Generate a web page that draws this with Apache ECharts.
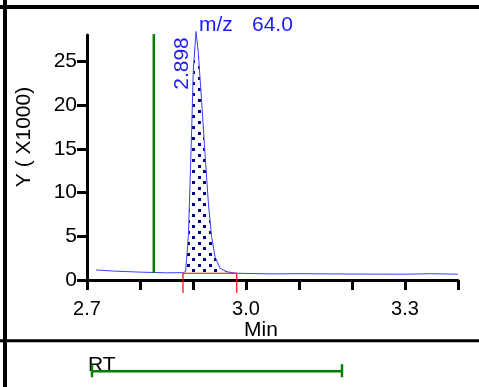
<!DOCTYPE html>
<html>
<head>
<meta charset="utf-8">
<script src="https://cdn.jsdelivr.net/npm/echarts@6/dist/echarts.min.js"></script>
<style>html,body{margin:0;padding:0;background:#fff}#c{width:479px;height:387px}</style>
</head>
<body>
<div id="c"></div>
<script>
// ---- data ----
const traceTime = [2.717, 2.75, 2.80, 2.85, 2.88, 2.886, 2.888, 2.8912, 2.8943, 2.8975, 2.9006, 2.9057, 2.910, 2.9164, 2.9226, 2.929, 2.935, 2.9415, 2.951, 2.9635, 2.982, 3.05, 3.10, 3.15, 3.20, 3.25, 3.30, 3.35, 3.40];
const traceY = [1.15, 1.02, 0.90, 0.82, 0.84, 0.95, 1.15, 4.97, 10.7, 17.2, 24.1, 28.4, 26.0, 20.3, 14.5, 8.8, 4.97, 2.67, 1.34, 0.95, 0.77, 0.70, 0.72, 0.70, 0.68, 0.67, 0.66, 0.72, 0.66];
const peakStart = 2.886, peakEnd = 2.982;
const baselineLevel = 0.77;
const bracketTime = [2.8811, 2.8811, 2.9825, 2.9825];
const bracketY = [-1.49, 0.77, 0.77, -1.49];
const markerTime = [2.826, 2.826];
const markerY = [0.8, 28.1];
const rtTime = [2.7094, 2.7094, 2.7094, 3.1811, 3.1811, 3.1811];
const rtY = [-9.63, -11.12, -10.44, -10.44, -9.63, -11.12];
const xTicks = [2.7, 2.8, 2.9, 3.0, 3.1, 3.2, 3.3, 3.4];
const xLabels = [2.7, 3.0, 3.3];
const yTicks = [0, 5, 10, 15, 20, 25];
const peakRT = '2.898';
const massLabel = ['m/z', '64.0'];

const zip = (a, b) => a.map((v, i) => [v, b[i]]);
const trace = zip(traceTime, traceY);
const peakFill = trace.filter(p => p[0] >= peakStart && p[0] <= peakEnd);

// dot pattern
const pc = document.createElement('canvas');
pc.width = 11; pc.height = 11;
const pctx = pc.getContext('2d');
pctx.fillStyle = '#000088';
pctx.fillRect(0, 0, 3, 3);
pctx.fillRect(5, 5, 3, 3);

const FONT = 'Liberation Sans, Arial, sans-serif';
const chart = echarts.init(document.getElementById('c'), null, {renderer: 'canvas'});
chart.setOption({
  animation: false,
  backgroundColor: '#fff',
  grid: {left: 87, right: 21, top: 35, bottom: 107},
  xAxis: {
    type: 'value', min: 2.7, max: 3.4,
    axisLine: {show: true, lineStyle: {color: '#000', width: 3}},
    axisTick: {show: true, length: 10, lineStyle: {color: '#000', width: 3}, customValues: xTicks},
    axisLabel: {customValues: xLabels, color: '#000', fontSize: 20, fontFamily: FONT, margin: 19,
      formatter: v => v.toFixed(1)},
    splitLine: {show: false}
  },
  yAxis: {
    type: 'value', min: 0, max: 28,
    axisLine: {show: true, lineStyle: {color: '#000', width: 3}},
    axisTick: {show: true, length: 10, lineStyle: {color: '#000', width: 3}, customValues: yTicks},
    axisLabel: {customValues: yTicks, color: '#000', fontSize: 21, fontFamily: FONT, margin: 10, padding: [6, 0, 0, 0]},
    splitLine: {show: false}
  },
  series: [
    {type: 'line', data: peakFill, showSymbol: false, clip: false, silent: true,
      lineStyle: {width: 0, opacity: 0},
      areaStyle: {origin: baselineLevel, color: {image: pc, repeat: 'repeat'}, opacity: 1}},
    {type: 'line', data: trace, showSymbol: false, clip: false,
      lineStyle: {color: '#3c3cff', width: 1}},
    {type: 'line', data: zip(bracketTime, bracketY), showSymbol: false, clip: false,
      lineStyle: {color: '#ff0000', width: 1.2}},
    {type: 'line', data: zip(markerTime, markerY), showSymbol: false, clip: false,
      lineStyle: {color: '#008000', width: 2.5}},
    {type: 'line', data: zip(rtTime, rtY), showSymbol: false, clip: false,
      lineStyle: {color: '#008000', width: 2.5}}
  ],
  graphic: [
    {type: 'line', shape: {x1: 0, y1: 7, x2: 479, y2: 7}, style: {stroke: '#000', lineWidth: 4}},
    {type: 'line', shape: {x1: 5, y1: 0, x2: 5, y2: 387}, style: {stroke: '#000', lineWidth: 4}},
    {type: 'line', shape: {x1: 0, y1: 340.8, x2: 479, y2: 340.8}, style: {stroke: '#000', lineWidth: 3}},
    {type: 'text', x: 199, y: 25, style: {text: massLabel[0], font: '21px ' + FONT, fill: '#1a1aff', align: 'left', verticalAlign: 'middle'}},
    {type: 'text', x: 252, y: 25, style: {text: massLabel[1], font: '21px ' + FONT, fill: '#1a1aff', align: 'left', verticalAlign: 'middle'}},
    {type: 'text', x: 182, y: 63.5, rotation: Math.PI / 2, style: {text: peakRT, font: '21px ' + FONT, fill: '#1a1aff', align: 'center', verticalAlign: 'middle'}},
    {type: 'text', x: 24, y: 137, rotation: Math.PI / 2, style: {text: 'Y ( X1000)', font: '21px ' + FONT, fill: '#000', align: 'center', verticalAlign: 'middle'}},
    {type: 'text', x: 244, y: 330, style: {text: 'Min', font: '21px ' + FONT, fill: '#000', align: 'left', verticalAlign: 'middle'}},
    {type: 'text', x: 88, y: 365, style: {text: 'RT', font: '21px ' + FONT, fill: '#000', align: 'left', verticalAlign: 'middle'}}
  ]
});
</script>
</body>
</html>
